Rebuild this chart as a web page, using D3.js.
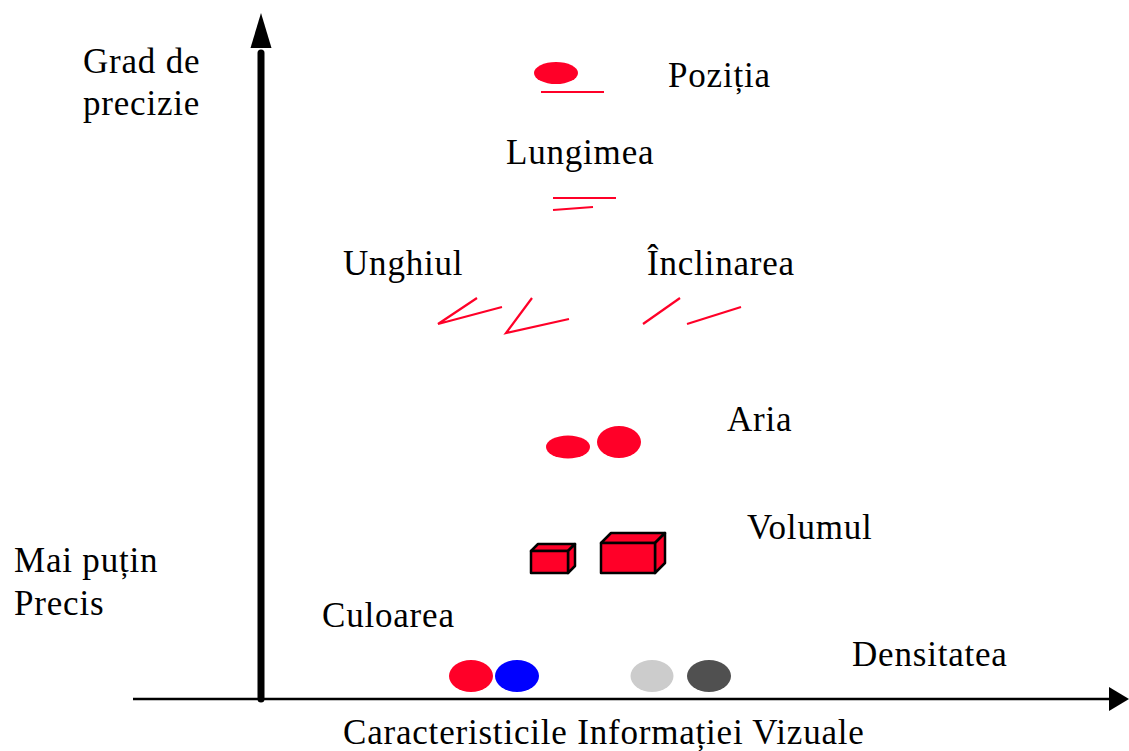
<!DOCTYPE html>
<html>
<head>
<meta charset="utf-8">
<script src="https://cdn.jsdelivr.net/npm/d3@7.9.0/dist/d3.min.js"></script>
<style>
  html, body { margin: 0; padding: 0; background: #fff; }
  svg { display: block; }
  text { font-family: "Liberation Serif", "Times New Roman", serif; font-size: 35px; letter-spacing: 0.8px; fill: #000; }
</style>
</head>
<body>
<svg id="chart" width="1129" height="751"></svg>
<script>
// characteristics ordered by precision, with label anchor (x units, precision level)
const categories = ['Poziția', 'Lungimea', 'Unghiul', 'Înclinarea', 'Aria', 'Volumul', 'Culoarea', 'Densitatea'];
const labelX = [53.5, 37.3, 21.0, 51.4, 59.4, 61.4, 18.9, 71.9];
const labelLevel = [61.2, 53.5, 42.4, 42.4, 26.8, 16.0, 7.2, 3.3];

// glyphs (x units, precision level)
const ellipses = [
  { cat: 'Poziția', x: 42.3, y: 62.6, rx: 2.2, ry: 1.1, color: '#ff0028' },
  { cat: 'Aria', x: 43.5, y: 25.2, rx: 2.2, ry: 1.15, color: '#ff0028' },
  { cat: 'Aria', x: 48.6, y: 25.7, rx: 2.2, ry: 1.6, color: '#ff0028' },
  { cat: 'Culoarea', x: 33.8, y: 2.3, rx: 2.2, ry: 1.6, color: '#ff0028' },
  { cat: 'Culoarea', x: 38.4, y: 2.3, rx: 2.2, ry: 1.6, color: '#0000ff' },
  { cat: 'Densitatea', x: 51.9, y: 2.3, rx: 2.15, ry: 1.6, color: '#cccccc' },
  { cat: 'Densitatea', x: 57.6, y: 2.3, rx: 2.2, ry: 1.6, color: '#505050' }
];

const strokes = [
  { cat: 'Poziția', pts: [[40.8, 60.7], [47.1, 60.7]] },
  { cat: 'Lungimea', pts: [[42.0, 50.1], [48.3, 50.1]] },
  { cat: 'Lungimea', pts: [[42.0, 48.9], [46.0, 49.2]] },
  { cat: 'Unghiul', pts: [[34.4, 40.1], [30.5, 37.5], [36.9, 39.2]] },
  { cat: 'Unghiul', pts: [[39.9, 40.1], [37.3, 36.6], [43.6, 38.0]] },
  { cat: 'Înclinarea', pts: [[51.0, 37.5], [54.7, 40.1]] },
  { cat: 'Înclinarea', pts: [[55.4, 37.5], [60.8, 39.2]] }
];

const boxes = [
  { cat: 'Volumul', x: 39.8, y: 12.6, w: 3.7, h: 2.2, depth: 0.7 },
  { cat: 'Volumul', x: 46.8, y: 12.6, w: 5.4, h: 3.0, depth: 1.0 }
];

const yTitle = ['Grad de', 'precizie'];
const yLowTitle = ['Mai puțin', 'Precis'];
const xTitle = 'Caracteristicile Informației Vizuale';

const svg = d3.select('#chart');
const x = d3.scaleLinear().domain([0, 100]).range([133, 1133]);
const y = d3.scaleLinear().domain([0, 70]).range([699, -1]);
const k = x(1) - x(0);

// axes
const axisX = 12.8;
svg.append('line')
  .attr('x1', x(0)).attr('y1', y(0)).attr('x2', x(97.6)).attr('y2', y(0))
  .attr('stroke', '#000').attr('stroke-width', 2.5);
svg.append('path')
  .attr('d', `M${x(99.6)},${y(0)} L${x(97.6)},${y(1.2)} L${x(97.6)},${y(-1.2)} Z`)
  .attr('fill', '#000');

svg.append('line')
  .attr('x1', x(axisX)).attr('y1', y(0)).attr('x2', x(axisX)).attr('y2', y(64.6))
  .attr('stroke', '#000').attr('stroke-width', 7).attr('stroke-linecap', 'round');
svg.append('path')
  .attr('d', `M${x(axisX)},${y(68.6)} L${x(axisX - 1.05)},${y(65.1)} L${x(axisX + 1.05)},${y(65.1)} Z`)
  .attr('fill', '#000');

// axis titles
yTitle.forEach((t, i) => {
  svg.append('text').attr('x', x(-5)).attr('y', y(62.6 - i * 4.2)).text(t);
});
yLowTitle.forEach((t, i) => {
  svg.append('text').attr('x', x(-11.9)).attr('y', y(12.7 - i * 4.3)).text(t);
});
svg.append('text').attr('x', x(21)).attr('y', y(-4.5)).text(xTitle);

// category labels
categories.forEach((c, i) => {
  svg.append('text').attr('x', x(labelX[i])).attr('y', y(labelLevel[i])).text(c);
});

// glyphs
svg.selectAll('ellipse.glyph')
  .data(ellipses)
  .join('ellipse')
  .attr('class', 'glyph')
  .attr('cx', d => x(d.x)).attr('cy', d => y(d.y))
  .attr('rx', d => d.rx * k).attr('ry', d => d.ry * k)
  .attr('fill', d => d.color);

const line = d3.line().x(d => x(d[0])).y(d => y(d[1]));
svg.selectAll('path.stroke')
  .data(strokes)
  .join('path')
  .attr('class', 'stroke')
  .attr('d', d => line(d.pts))
  .attr('fill', 'none')
  .attr('stroke', '#ff0028')
  .attr('stroke-width', 2.2)
  .attr('stroke-linejoin', 'miter');

boxes.forEach(b => {
  const x0 = x(b.x), x1 = x(b.x + b.w);
  const yb = y(b.y), yt = y(b.y + b.h);
  const dd = b.depth * k;
  const g = svg.append('g')
    .attr('fill', '#ff0028').attr('stroke', '#000')
    .attr('stroke-width', 2.5).attr('stroke-linejoin', 'round');
  g.append('path')
    .attr('d', `M${x0},${yt} L${x0 + dd},${yt - dd} L${x1 + dd},${yt - dd} L${x1},${yt} Z`);
  g.append('path')
    .attr('d', `M${x1},${yt} L${x1 + dd},${yt - dd} L${x1 + dd},${yb - dd} L${x1},${yb} Z`);
  g.append('rect')
    .attr('x', x0).attr('y', yt).attr('width', x1 - x0).attr('height', yb - yt);
});
</script>
</body>
</html>
